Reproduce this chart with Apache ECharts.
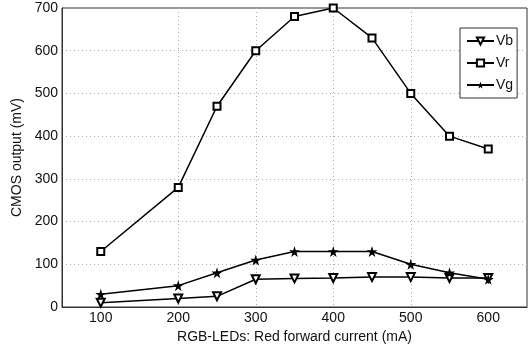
<!DOCTYPE html>
<html><head><meta charset="utf-8">
<script src="https://cdn.jsdelivr.net/npm/echarts@6/dist/echarts.min.js"></script>
<style>html,body{margin:0;padding:0;background:#fff}#c{width:529px;height:349px}</style>
</head><body><div id="c"></div>
<script>
const currents = [100, 200, 250, 300, 350, 400, 450, 500, 550, 600];
const Vb = [10, 20, 25, 65, 67, 68, 70, 70, 68, 68];
const Vr = [130, 280, 470, 600, 680, 700, 630, 500, 400, 370];
const Vg = [30, 50, 80, 110, 130, 130, 130, 100, 80, 65];
const xTicks = [100, 200, 300, 400, 500, 600];
const yTicks = [0, 100, 200, 300, 400, 500, 600, 700];

const pairs = v => currents.map((c, i) => [c, v[i]]);
const star = 'path://M50,0 L61,35 L98,35 L68,57 L79,91 L50,70 L21,91 L32,57 L2,35 L39,35 Z';
const font = '"Liberation Sans", Arial, sans-serif';
const txt = '#111';

const chart = echarts.init(document.getElementById('c'), null, {renderer: 'canvas'});
const lineStyle = {color: '#000', width: 1.5};
chart.setOption({
  animation: false,
  backgroundColor: '#fff',
  grid: {left: 62, right: 2, top: 8, bottom: 42, show: true, borderColor: '#333', borderWidth: 1, backgroundColor: '#fff'},
  legend: {
    orient: 'vertical', left: 460, top: 28,
    padding: [6, 4, 6, 6], itemWidth: 27, itemHeight: 9, itemGap: 8,
    borderColor: '#333', borderWidth: 1, backgroundColor: '#fff', borderRadius: 0,
    textStyle: {fontFamily: font, fontSize: 14, color: txt, padding: [0, 0, 0, -3]},
    data: ['Vb', 'Vr', 'Vg']
  },
  xAxis: {
    type: 'value', min: 50, max: 650,
    name: 'RGB-LEDs: Red forward current (mA)', nameLocation: 'middle', nameGap: 19,
    nameTextStyle: {fontFamily: font, fontSize: 14, color: txt},
    axisLine: {show: true, lineStyle: {color: '#333'}},
    axisTick: {show: false, customValues: xTicks},
    axisLabel: {margin: 4, fontFamily: font, fontSize: 14, color: txt, customValues: xTicks},
    splitLine: {show: true, customValues: xTicks, lineStyle: {color: '#aaa', type: [1, 3], width: 1},
      showMinLine: false, showMaxLine: false}
  },
  yAxis: {
    type: 'value', min: 0, max: 700, interval: 100,
    name: 'CMOS output (mV)', nameLocation: 'middle', nameGap: 33,
    nameTextStyle: {fontFamily: font, fontSize: 14, color: txt},
    axisLine: {show: true, lineStyle: {color: '#333'}},
    axisTick: {show: false},
    axisLabel: {margin: 4, fontFamily: font, fontSize: 14, color: txt,
      formatter: v => yTicks.includes(v) ? String(v) : ''},
    splitLine: {show: true, lineStyle: {color: '#aaa', type: [1, 3], width: 1},
      showMinLine: false, showMaxLine: false}
  },
  series: [
    {name: 'Vb', type: 'line', data: pairs(Vb), symbol: 'emptyTriangle', symbolRotate: 180, symbolSize: 8,
      lineStyle, itemStyle: {color: '#000', borderColor: '#000', borderWidth: 1.3}},
    {name: 'Vr', type: 'line', data: pairs(Vr), symbol: 'emptyRect', symbolSize: 7,
      lineStyle, itemStyle: {color: '#000', borderColor: '#000', borderWidth: 1.3}},
    {name: 'Vg', type: 'line', data: pairs(Vg), symbol: star, symbolSize: 11,
      lineStyle, itemStyle: {color: '#000', borderColor: '#000', borderWidth: 0}}
  ]
});
</script></body></html>
